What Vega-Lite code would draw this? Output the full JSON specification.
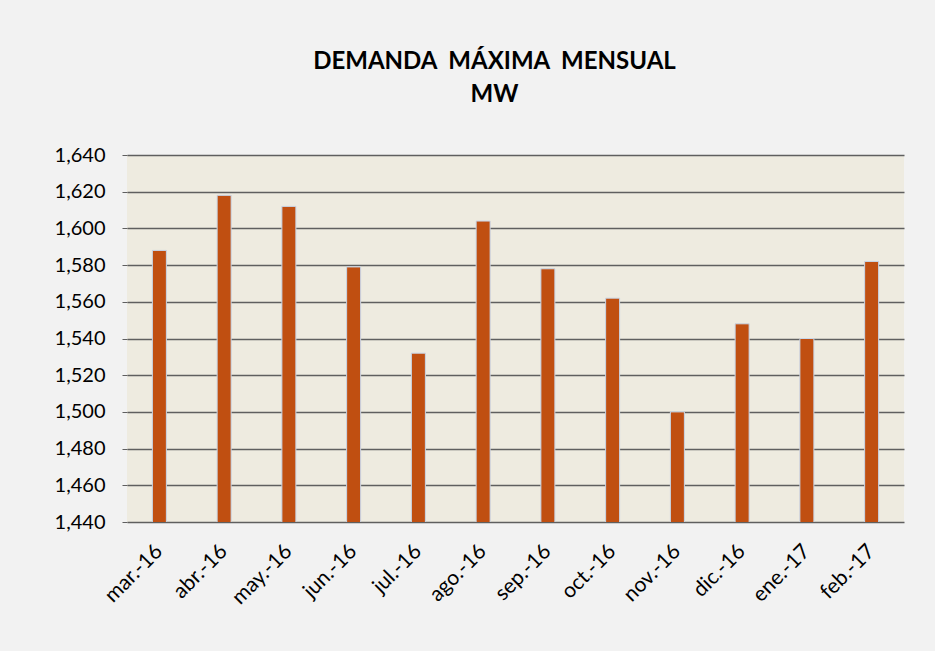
{
  "$schema": "https://vega.github.io/schema/vega-lite/v6.json",
  "width": 777,
  "height": 367,
  "autosize": {"type": "none"},
  "padding": {"left": 127, "top": 155, "right": 31, "bottom": 129},
  "background": "#F2F2F2",
  "title": {
    "text": ["DEMANDA\u00a0 MÁXIMA\u00a0 MENSUAL", "MW"],
    "font": "Lato",
    "fontSize": 24,
    "fontWeight": "bold",
    "color": "#000000",
    "anchor": "middle",
    "frame": "group",
    "dx": -21,
    "lineHeight": 33,
    "offset": 38
  },
  "data": {
    "values": [
      {"mes": "mar.-16", "mw": 1588},
      {"mes": "abr.-16", "mw": 1618},
      {"mes": "may.-16", "mw": 1612},
      {"mes": "jun.-16", "mw": 1579},
      {"mes": "jul.-16", "mw": 1532},
      {"mes": "ago.-16", "mw": 1604},
      {"mes": "sep.-16", "mw": 1578},
      {"mes": "oct.-16", "mw": 1562},
      {"mes": "nov.-16", "mw": 1500},
      {"mes": "dic.-16", "mw": 1548},
      {"mes": "ene.-17", "mw": 1540},
      {"mes": "feb.-17", "mw": 1582}
    ]
  },
  "mark": {"type": "bar", "width": 14, "fill": "#C04F11", "stroke": "#C8D6E8", "strokeWidth": 1, "clip": true},
  "encoding": {
    "x": {
      "field": "mes",
      "type": "ordinal",
      "sort": null,
      "title": null,
      "scale": {"paddingInner": 0, "paddingOuter": 0},
      "axis": {
        "labelAngle": -45,
        "labelAlign": "right",
        "labelBaseline": "middle",
        "labelFont": "Lato",
        "labelFontSize": 21,
        "labelColor": "#000000",
        "labelPadding": 26,
        "ticks": false,
        "domain": false,
        "grid": false
      }
    },
    "y": {
      "field": "mw",
      "type": "quantitative",
      "title": null,
      "scale": {"domain": [1440, 1640], "zero": false, "nice": false},
      "axis": {
        "values": [1440, 1460, 1480, 1500, 1520, 1540, 1560, 1580, 1600, 1620, 1640],
        "format": ",.0f",
        "labelFont": "Lato",
        "labelFontSize": 20,
        "labelColor": "#000000",
        "labelPadding": 17,
        "tickSize": 5,
        "tickColor": "#5f5f5f",
        "domain": false,
        "grid": true,
        "gridColor": "#5f5f5f",
        "gridWidth": 1.5,
        "gridOpacity": 1
      }
    }
  },
  "config": {
    "view": {"fill": "#EEEBE0", "stroke": null}
  }
}
